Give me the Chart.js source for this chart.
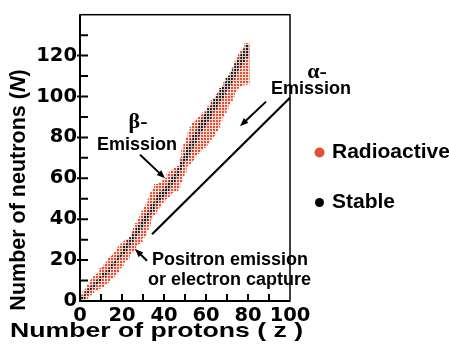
<!DOCTYPE html>
<html>
<head>
<title>Chart of nuclides</title>
<script src="https://cdn.jsdelivr.net/npm/chart.js"></script>
<style>
html, body { margin: 0; padding: 0; background: #fff; }
</style>
</head>
<body>
<canvas id="nuclide-chart" width="449" height="346"></canvas>
<script>
// proton number Z of each column of the band
const protons = [
  1, 2, 3, 4, 5, 6, 7, 8, 9, 10, 11, 12, 13, 14, 15, 16, 17, 18, 19, 20,
  21, 22, 23, 24, 25, 26, 27, 28, 29, 30, 31, 32, 33, 34, 35, 36, 37, 38, 39, 40,
  41, 42, 43, 44, 45, 46, 47, 48, 49, 50, 51, 52, 53, 54, 55, 56, 57, 58, 59, 60,
  61, 62, 63, 64, 65, 66, 67, 68, 69, 70, 71, 72, 73, 74, 75, 76, 77, 78, 79, 80
];
// lowest / highest neutron number of the radioactive band for each Z
const radioLow = [
  0, 1, 1, 2, 3, 4, 5, 5, 6, 7, 7, 8, 9, 10, 11, 12, 13, 14, 16, 17,
  19, 20, 21, 23, 24, 25, 27, 28, 29, 31, 32, 35, 37, 40, 42, 43, 45, 46, 48, 49,
  50, 51, 52, 53, 54, 54, 55, 58, 61, 63, 66, 67, 68, 69, 71, 72, 73, 74, 75, 76,
  77, 79, 80, 81, 83, 85, 88, 90, 92, 94, 96, 98, 100, 102, 104, 105, 105, 106, 106, 106
];
const radioHigh = [
  3, 5, 6, 8, 10, 11, 12, 13, 14, 16, 17, 18, 19, 21, 22, 23, 24, 26, 27, 28,
  29, 30, 30, 31, 34, 36, 38, 40, 42, 44, 46, 48, 50, 53, 55, 57, 57, 58, 58, 59,
  60, 62, 63, 64, 65, 65, 66, 70, 74, 77, 80, 83, 85, 87, 88, 89, 90, 91, 92, 93,
  95, 96, 98, 99, 101, 102, 104, 105, 107, 109, 110, 112, 114, 117, 119, 121, 122, 124, 126, 126
];
// stable staircase
const stableLow = [
  0, 1, 3, 4, 5, 6, 7, 8, 9, 10, 12, 12, 13, 14, 16, 17, 18, 20, 21, 22,
  23, 24, 26, 27, 29, 30, 32, 33, 35, 36, 38, 39, 41, 43, 44, 46, 48, 49, 50, 51,
  52, 54, 55, 57, 58, 60, 61, 64, 66, 68, 69, 71, 73, 75, 77, 79, 81, 83, 85, 86,
  88, 89, 91, 93, 94, 96, 98, 99, 101, 103, 104, 106, 108, 110, 112, 114, 115, 117, 119, 119
];
const stableHigh = [
  2, 3, 5, 6, 7, 8, 9, 10, 11, 12, 14, 14, 15, 16, 18, 19, 20, 22, 23, 24,
  27, 28, 30, 31, 33, 34, 36, 37, 39, 40, 42, 43, 45, 47, 48, 50, 52, 53, 54, 55,
  56, 58, 59, 61, 62, 64, 65, 68, 70, 72, 75, 77, 79, 81, 83, 85, 87, 89, 91, 92,
  94, 95, 97, 99, 100, 102, 104, 105, 107, 109, 110, 112, 114, 116, 118, 120, 121, 123, 125, 125
];
const xLabels = [0, 20, 40, 60, 80, 100];
const yLabels = [0, 20, 40, 60, 80, 100, 120];
const xMinor = [10, 20, 30, 40, 50, 60, 70, 80, 90];
const yMinor = [10, 20, 30, 40, 50, 60, 70, 80, 90, 100, 110, 120, 130];

function dotPattern(fg, bg) {
  const c = document.createElement('canvas');
  c.width = 3; c.height = 3;
  const g = c.getContext('2d');
  g.fillStyle = bg; g.fillRect(0, 0, 3, 3);
  g.fillStyle = fg; g.fillRect(0, 0, 2, 2);
  return g.createPattern(c, 'repeat');
}

function arrow(ctx, x1, y1, x2, y2, head) {
  const ang = Math.atan2(y2 - y1, x2 - x1);
  ctx.beginPath();
  ctx.moveTo(x1, y1);
  ctx.lineTo(x2 - head * 0.8 * Math.cos(ang), y2 - head * 0.8 * Math.sin(ang));
  ctx.stroke();
  ctx.beginPath();
  ctx.moveTo(x2, y2);
  ctx.lineTo(x2 - head * Math.cos(ang - 0.38), y2 - head * Math.sin(ang - 0.38));
  ctx.lineTo(x2 - head * Math.cos(ang + 0.38), y2 - head * Math.sin(ang + 0.38));
  ctx.closePath();
  ctx.fill();
}

const SANS = '"Liberation Sans", Arial, sans-serif';
const AXIS = '"DejaVu Sans", sans-serif';

const decorations = {
  id: 'decorations',
  afterDatasetsDraw(chart) {
    const {ctx, chartArea: a, scales: {x, y}} = chart;
    ctx.save();
    ctx.strokeStyle = '#000';
    ctx.fillStyle = '#000';
    // frame
    ctx.lineWidth = 1.5;
    ctx.strokeRect(a.left, a.top, a.right - a.left, a.bottom - a.top);
    ctx.lineWidth = 2;
    ctx.beginPath();
    ctx.moveTo(a.left, a.top); ctx.lineTo(a.left, a.bottom); ctx.lineTo(a.right, a.bottom);
    ctx.stroke();
    // inward ticks
    ctx.beginPath();
    yMinor.forEach(v => {
      const py = y.getPixelForValue(v);
      ctx.moveTo(a.left - (v % 20 === 0 ? 3 : 0), py);
      ctx.lineTo(a.left + 8, py);
    });
    xMinor.forEach(v => {
      const px = x.getPixelForValue(v);
      ctx.moveTo(px, a.bottom);
      ctx.lineTo(px, a.bottom - 7);
    });
    ctx.stroke();

    // alpha line and arrows (data units)
    ctx.lineWidth = 2.2;
    ctx.beginPath();
    ctx.moveTo(x.getPixelForValue(34.3), y.getPixelForValue(32.6));
    ctx.lineTo(x.getPixelForValue(100), y.getPixelForValue(99.4));
    ctx.stroke();
    ctx.lineWidth = 2;
    const arrows = [[88.6, 97.5, 76.2, 85.5], [28.6, 71.5, 40.5, 60], [31.9, 19.7, 26.2, 25.4]];
    arrows.forEach(([z1, n1, z2, n2]) => {
      arrow(ctx, x.getPixelForValue(z1), y.getPixelForValue(n1),
        x.getPixelForValue(z2), y.getPixelForValue(n2), 9);
    });
    ctx.restore();
  },
  afterDraw(chart) {
    const {ctx} = chart;
    ctx.save();
    ctx.fillStyle = '#000';
    ctx.textBaseline = 'alphabetic';

    // annotation texts
    ctx.font = 'bold 22px "Liberation Serif", serif';
    ctx.textAlign = 'center';
    ctx.fillText('\u03b2-', 138, 128);
    ctx.fillText('\u03b1-', 317, 78);
    ctx.font = 'bold 18px ' + SANS;
    ctx.fillText('Emission', 137, 150);
    ctx.fillText('Emission', 311, 94);
    ctx.textAlign = 'left';
    ctx.fillText('Positron emission', 152, 265);
    ctx.fillText('or electron capture', 148, 285);

    // x axis title, stretched wide like the original
    ctx.save();
    ctx.font = 'bold 21px ' + SANS;
    const xt = 'Number of protons ( z )';
    const sx = 293 / ctx.measureText(xt).width;
    ctx.translate(10, 337);
    ctx.scale(sx, 1);
    ctx.fillText(xt, 0, 0);
    ctx.restore();

    // y axis title, rotated, with italic N
    ctx.translate(25, 190);
    ctx.rotate(-Math.PI / 2);
    const parts = [
      ['Number of neutrons (', 'bold 21.5px ' + SANS],
      ['N', 'italic bold 21.5px ' + SANS],
      [')', 'bold 21.5px ' + SANS]
    ];
    let w = 0;
    parts.forEach(([t, f]) => { ctx.font = f; w += ctx.measureText(t).width; });
    let cx = -w / 2;
    parts.forEach(([t, f]) => { ctx.font = f; ctx.fillText(t, cx, 0); cx += ctx.measureText(t).width; });
    ctx.restore();

    // legend
    ctx.save();
    ctx.font = 'bold 21px ' + SANS;
    ctx.textBaseline = 'alphabetic';
    chart.data.datasets.forEach((ds, i) => {
      if (!ds.legendColor) return;
      const cy = 152.5 + i * 50;
      ctx.fillStyle = ds.legendColor;
      ctx.beginPath();
      ctx.arc(319.5, cy, ds.legendRadius, 0, Math.PI * 2);
      ctx.fill();
      ctx.fillStyle = '#000';
      ctx.fillText(ds.label, 332, cy + 5.5);
    });
    ctx.restore();
  }
};

const ctx = document.getElementById('nuclide-chart').getContext('2d');
new Chart(ctx, {
  type: 'bar',
  data: {
    datasets: [
      {
        label: 'Radioactive',
        data: protons.map((z, i) => ({x: z, y: [radioLow[i], radioHigh[i]]})),
        backgroundColor: dotPattern('#ec4a33', '#fde2da'),
        legendColor: '#e2503a',
        legendRadius: 5,
        barThickness: 2.6,
        grouped: false,
        borderWidth: 0,
        order: 2
      },
      {
        label: 'Stable',
        data: protons.map((z, i) => ({x: z, y: [stableLow[i], stableHigh[i]]})),
        backgroundColor: dotPattern('#1a1a1a', '#c8c8c8'),
        legendColor: '#000',
        legendRadius: 4.5,
        barThickness: 1.3,
        grouped: false,
        borderWidth: 0,
        order: 1
      }
    ]
  },
  options: {
    responsive: false,
    devicePixelRatio: 1,
    animation: false,
    layout: {padding: {left: 0, right: 159, top: 10, bottom: 0}},
    plugins: {legend: {display: false}, tooltip: {enabled: false}},
    scales: {
      x: {
        type: 'linear', min: 0, max: 100, offset: false,
        afterBuildTicks: s => { s.ticks = xLabels.map(v => ({value: v})); },
        afterFit: s => { s.height = 45; },
        grid: {display: false, drawTicks: false},
        border: {display: false},
        ticks: {color: '#000', padding: 3, maxRotation: 0, autoSkip: false,
          font: {family: AXIS, size: 19.5, weight: 'bold'}}
      },
      y: {
        type: 'linear', min: 0, max: 140,
        afterBuildTicks: s => { s.ticks = yLabels.map(v => ({value: v})); },
        afterFit: s => { s.width = 80; },
        grid: {display: false, drawTicks: false},
        border: {display: false},
        ticks: {color: '#000', padding: 3, autoSkip: false,
          font: {family: AXIS, size: 19.5, weight: 'bold'}}
      }
    }
  },
  plugins: [decorations]
});
</script>
</body>
</html>
